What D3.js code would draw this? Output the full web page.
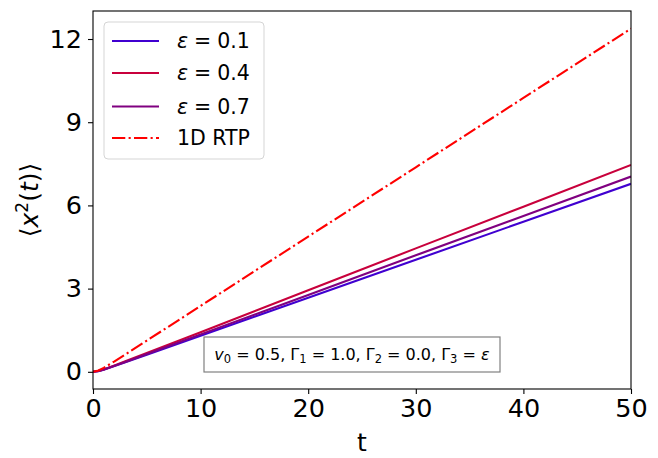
<!DOCTYPE html>
<html><head><meta charset="utf-8">
<script src="https://cdn.jsdelivr.net/npm/d3@7"></script>
<style>body{margin:0;background:#fff;} svg{display:block;font-family:"DejaVu Sans",sans-serif;}</style>
</head><body><svg id="c" width="658" height="458"></svg>
<script>
const times = [0, 0.5, 1, 2, 3, 5, 10, 20, 30, 40, 50];
const eps01 = [0, 0.025, 0.078, 0.207, 0.343, 0.617, 1.30, 2.67, 4.04, 5.41, 6.78];
const eps04 = [0, 0.028, 0.086, 0.227, 0.377, 0.678, 1.43, 2.94, 4.45, 5.95, 7.46];
const eps07 = [0, 0.026, 0.081, 0.215, 0.356, 0.640, 1.35, 2.77, 4.20, 5.62, 7.04];
const rtp1d = [0, 0.046, 0.142, 0.377, 0.625, 1.125, 2.375, 4.875, 7.375, 9.875, 12.375];
const seriesNames = ["0.1", "0.4", "0.7", "1D RTP"];
const seriesColors = ["#4000d0", "#c8003c", "#800080", "#ff0000"];
const xTicks = [0, 10, 20, 30, 40, 50];
const yTicks = [0, 3, 6, 9, 12];

const svg = d3.select("#c");
const L = 93, R = 631, T = 11, B = 389;
const x = d3.scaleLinear().domain([0, 50]).range([L, R]);
const y = d3.scaleLinear().domain([-0.62, 13.01]).range([B, T]);

const defs = svg.append("defs");
defs.append("clipPath").attr("id","clip").append("rect")
  .attr("x",L).attr("y",T).attr("width",R-L).attr("height",B-T);

const allSeries = [eps01, eps04, eps07, rtp1d];
const line = d3.line().x((d,i)=>x(times[i])).y(d=>y(d));
const g = svg.append("g").attr("clip-path","url(#clip)");
allSeries.forEach((s,k)=>{
  g.append("path").datum(s).attr("d", line)
    .attr("fill","none").attr("stroke", seriesColors[k]).attr("stroke-width", 2.1)
    .attr("stroke-dasharray", k===3 ? "13.3,3.3,2.1,3.3" : null);
});

// axes
const xa = svg.append("g").attr("transform",`translate(0,${B})`)
  .call(d3.axisBottom(x).tickValues(xTicks).tickSize(5).tickPadding(5).tickFormat(d3.format("d")));
const ya = svg.append("g").attr("transform",`translate(${L},0)`)
  .call(d3.axisLeft(y).tickValues(yTicks).tickSize(5).tickPadding(6).tickFormat(d3.format("d")));
[xa, ya].forEach(a=>{
  a.select(".domain").remove();
  a.selectAll("line").attr("stroke","#000").attr("stroke-width",1.1);
  a.selectAll("text").attr("font-size","25.5px").attr("fill","#000").attr("font-family","DejaVu Sans");
});
svg.append("rect").attr("x",L).attr("y",T).attr("width",R-L).attr("height",B-T)
  .attr("fill","none").attr("stroke","#000").attr("stroke-width",1.1);

// axis labels
svg.append("text").attr("x", 362).attr("y", 451).attr("text-anchor","middle")
  .attr("font-size","25px").text("t");
const yl = svg.append("text").attr("transform","translate(38,200) rotate(-90)")
  .attr("text-anchor","middle").attr("font-size","25px");
yl.append("tspan").text("⟨");
yl.append("tspan").attr("font-style","italic").text("x");
yl.append("tspan").attr("font-size","17px").attr("dy",-10).text("2");
yl.append("tspan").attr("dy",10).text("(");
yl.append("tspan").attr("font-style","italic").text("t");
yl.append("tspan").text(")⟩");

// legend
const lg = svg.append("g");
lg.append("rect").attr("x",104).attr("y",22).attr("width",160).attr("height",137)
  .attr("rx",4).attr("fill","#fff").attr("fill-opacity",0.8).attr("stroke","#d5d5d5").attr("stroke-width",1);
const rows = [41, 73, 106.5, 138];
seriesNames.forEach((n,k)=>{
  lg.append("line").attr("x1",112).attr("x2",159).attr("y1",rows[k]).attr("y2",rows[k])
    .attr("stroke",seriesColors[k]).attr("stroke-width",2.1)
    .attr("stroke-dasharray", k===3 ? "13.3,3.3,2.1,3.3" : null);
  const t = lg.append("text").attr("x",177).attr("y",rows[k]+7).attr("font-size","20.5px");
  if (k<3) {
    t.append("tspan").attr("font-style","italic").text("ε");
    t.append("tspan").attr("dx",6).text("=");
    t.append("tspan").attr("dx",6).text(n);
  } else t.text(n);
});

// annotation box
const ab = svg.append("g");
ab.append("rect").attr("x",204).attr("y",337).attr("width",296).attr("height",35)
  .attr("fill","#fff").attr("stroke","#808080").attr("stroke-width",1.2);
const at = ab.append("text").attr("x",352).attr("y",360).attr("text-anchor","middle").attr("font-size","16px");
const sub = (txt)=>{ at.append("tspan").attr("font-size","11.5px").attr("dy",3).text(txt); };
const norm = (txt)=>{ at.append("tspan").attr("dy",-3).text(txt); };
at.append("tspan").attr("font-style","italic").text("v");
sub("0");
norm(" = 0.5, Γ");
sub("1");
norm(" = 1.0, Γ");
sub("2");
norm(" = 0.0, Γ");
sub("3");
norm(" = ");
at.append("tspan").attr("font-style","italic").text("ε");
</script></body></html>
